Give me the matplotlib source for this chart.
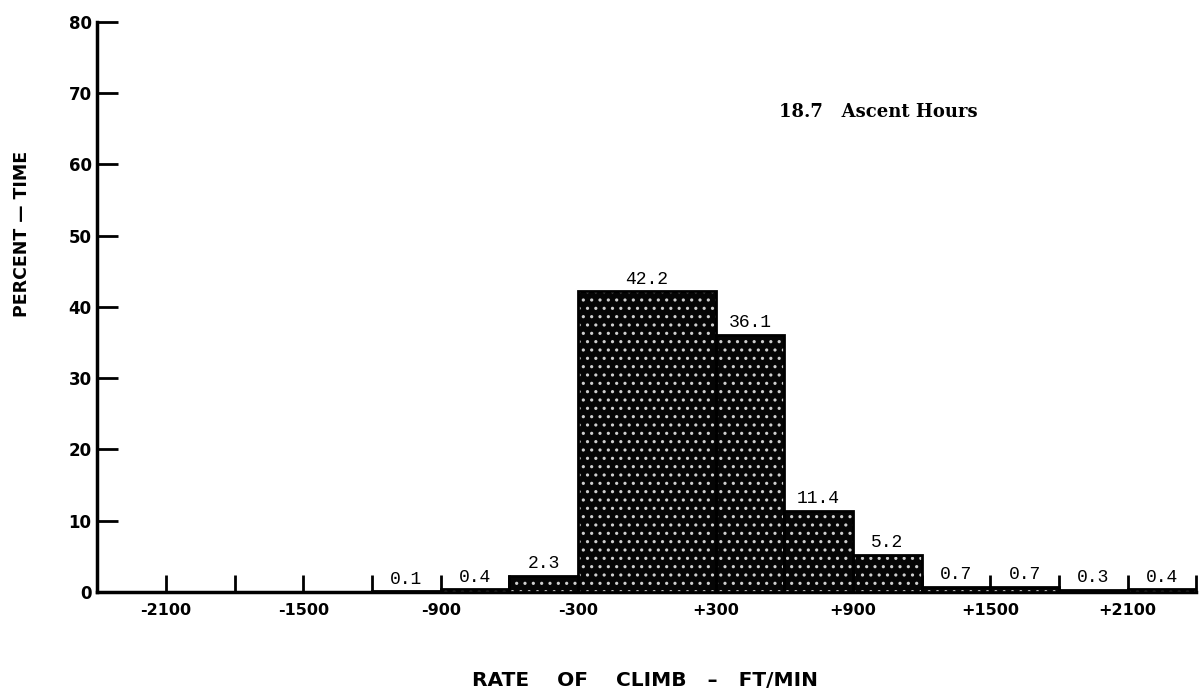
import numpy as np
import matplotlib
matplotlib.use("Agg")
import matplotlib.pyplot as plt

# rate of climb bins (ft/min) and percent of time in each
bin_edges = [-1200, -900, -600, -300, 300, 600, 900, 1200, 1500, 1800, 2100, 2400]
percent = [0.1, 0.4, 2.3, 42.2, 36.1, 11.4, 5.2, 0.7, 0.7, 0.3, 0.4]
value_labels = ["0.1", "0.4", "2.3", "42.2", "36.1", "11.4", "5.2", "0.7", "0.7", "0.3", "0.4"]

tick_pos = list(range(-2100, 2401, 300))
labeled_ticks = {-2100: "-2100", -1500: "-1500", -900: "-900", -300: "-300",
                 300: "+300", 900: "+900", 1500: "+1500", 2100: "+2100"}
y_ticks = [0, 10, 20, 30, 40, 50, 60, 70, 80]

plt.rcParams['hatch.color'] = '#cfcfcf'
plt.rcParams['hatch.linewidth'] = 1.1

fig = plt.figure(figsize=(12, 6.97), dpi=100)
ax = fig.add_axes([0.081, 0.1506, 0.916, 0.818])

edges = np.array(bin_edges)
lefts = edges[:-1]
widths = np.diff(edges)

# stippled fill, then a solid outline on top
ax.bar(lefts, percent, width=widths, align='edge', color='#050505',
       hatch='..', linewidth=0, zorder=3)
ax.bar(lefts, percent, width=widths, align='edge', fill=False,
       edgecolor='black', linewidth=2, zorder=4)

for l, w, v, s in zip(lefts, widths, percent, value_labels):
    ax.text(l + w / 2, v + 0.5, s, ha='center', va='bottom',
            family='Liberation Mono', fontsize=13, zorder=5)

ax.set_xlim(-2400, 2400)
ax.set_ylim(0, 80)

ax.set_xticks(tick_pos)
ax.set_xticklabels([labeled_ticks.get(t, "") for t in tick_pos],
                   fontweight='bold', fontsize=11.5)
ax.set_yticks(y_ticks)
ax.set_yticklabels([str(t) for t in y_ticks], fontweight='bold', fontsize=12)

ax.tick_params(axis='x', direction='in', length=12, width=2, pad=8)
ax.tick_params(axis='y', direction='in', length=15, width=2, pad=4)

for side in ['top', 'right']:
    ax.spines[side].set_visible(False)
for side in ['left', 'bottom']:
    ax.spines[side].set_linewidth(2.5)

ax.text(0.62, 0.842, "18.7   Ascent Hours", transform=ax.transAxes,
        family='DejaVu Serif', fontweight='bold', fontsize=13,
        ha='left', va='center')

fig.text(0.5375, 0.024, "RATE    OF    CLIMB   \u2013   FT/MIN", ha='center',
         va='center', fontweight='bold', fontsize=14.5)
fig.text(0.018, 0.665, "PERCENT \u2014 TIME", rotation=90, ha='center',
         va='center', fontweight='bold', fontsize=12.5)

fig.savefig("out.png", dpi=100)
